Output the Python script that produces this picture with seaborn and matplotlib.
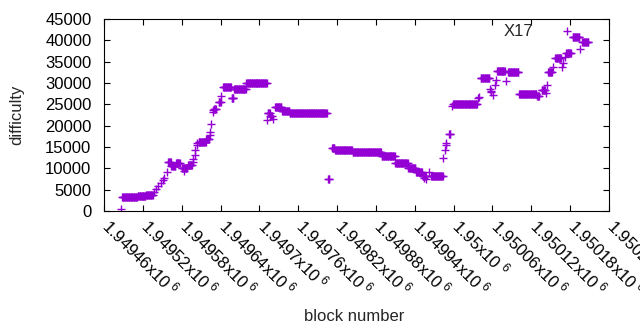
import numpy as np
import pandas as pd
import matplotlib
matplotlib.use("Agg")
import matplotlib.pyplot as plt
import matplotlib.transforms as mtransforms
import seaborn as sns

# ---------------------------------------------------------------
# Difficulty per block.
# Flat stretches are given as (first block, last block, difficulty),
# single off-level blocks as (block, difficulty).
# ---------------------------------------------------------------
run_start = [1949488, 1949512, 1949525, 1949559, 1949564, 1949571, 1949580,
             1949590, 1949606, 1949618, 1949630, 1949637, 1949644, 1949657,
             1949661, 1949680, 1949713, 1949717, 1949724, 1949735, 1949747,
             1949806, 1949812, 1949817, 1949844, 1949889, 1949910, 1949930,
             1949942, 1949952, 1949965, 1949993, 1949999, 1950042, 1950067,
             1950084, 1950101, 1950129, 1950136, 1950146, 1950157, 1950174,
             1950184, 1950199]
run_end = [1949511, 1949524, 1949535, 1949563, 1949570, 1949577, 1949588,
           1949596, 1949617, 1949622, 1949633, 1949640, 1949656, 1949660,
           1949679, 1949711, 1949716, 1949719, 1949734, 1949746, 1949804,
           1949808, 1949816, 1949843, 1949888, 1949909, 1949929, 1949941,
           1949951, 1949957, 1949983, 1949995, 1950036, 1950055, 1950079,
           1950100, 1950128, 1950132, 1950141, 1950152, 1950166, 1950180,
           1950194, 1950208]
run_diff = [3200, 3500, 3800, 11600, 10600, 11200, 10000,
            10800, 16200, 16800, 24000, 25500, 29000, 26600,
            28500, 30000, 23000, 22300, 24400, 23500, 22900,
            7600, 14800, 14200, 13800, 12850, 11200, 10000,
            9100, 8100, 8200, 18000, 25000, 31100, 32800,
            32500, 27400, 26900, 28400, 32500, 35800, 37000,
            40700, 39500]

pt_block = [1949486, 1949537, 1949541, 1949544, 1949548, 1949551, 1949553,
            1949557, 1949584, 1949597, 1949598, 1949600, 1949601, 1949603,
            1949604, 1949623, 1949624, 1949626, 1949628, 1949629, 1949641,
            1949712, 1949721, 1949955, 1949958, 1949962, 1949984, 1949987,
            1949988, 1949989, 1949998, 1950038, 1950039, 1950056, 1950057,
            1950058, 1950061, 1950064, 1950066, 1950081, 1950143, 1950144,
            1950154, 1950168, 1950169, 1950172, 1950181, 1950195]
pt_diff = [500, 4400, 5100, 5900, 6600, 7300, 7700,
           9100, 9400, 11500, 12300, 13100, 14300, 15500,
           16000, 17800, 18600, 20300, 23200, 23700, 26900,
           21300, 21500, 7700, 7500, 9100, 12400, 14300,
           15400, 16000, 24500, 26400, 26800, 28600, 28200,
           27800, 27200, 29500, 30700, 30500, 27600, 29500,
           33800, 33800, 34700, 36200, 37100, 37900]

# x axis ticks (gnuplot style, every 60 blocks)
x_ticks = list(range(1949460, 1950241, 60))
y_ticks = list(range(0, 45001, 5000))

# build one table, one row per block
blocks, diffs = [], []
for s, e, d in zip(run_start, run_end, run_diff):
    for b in range(s, e + 1):
        blocks.append(b)
        diffs.append(d)
blocks += pt_block
diffs += pt_diff
df = pd.DataFrame({"block": blocks, "difficulty": diffs}).sort_values("block")

# ---------------------------------------------------------------
sns.set_theme(style="ticks")
plt.rcParams["font.family"] = ["Liberation Sans", "DejaVu Sans"]
plt.rcParams["font.size"] = 12

fig = plt.figure(figsize=(6.4, 3.3), dpi=100)
ax = fig.add_axes([104 / 640, 1 - 211 / 330, 505 / 640, 192 / 330])

sns.scatterplot(data=df, x="block", y="difficulty", ax=ax,
                marker="+", s=30, color="#9400d3", linewidth=1.0,
                label="X17")

ax.set_xlim(1949460, 1950240)
ax.set_ylim(0, 45000)
ax.set_xticks(x_ticks)
xlabels = ["$\\mathregular{" + f"{v / 1e6:g}" + "x10^{\\ 6}}$" for v in x_ticks]
ax.set_xticklabels(xlabels, rotation=-45, ha="left", va="top",
                   rotation_mode="anchor")
ax.set_yticks(y_ticks)
ax.tick_params(direction="in", top=True, right=True, length=4, width=0.8,
               labelsize=12, colors="black")
ax.tick_params(axis="x", pad=8)
ax.tick_params(axis="y", pad=9)
# nudge the slanted labels so they start right at their tick
shift = mtransforms.ScaledTranslation(9 / 100, 7 / 100, fig.dpi_scale_trans)
for lbl in ax.get_xticklabels():
    lbl.set_transform(lbl.get_transform() + shift)

for sp in ax.spines.values():
    sp.set_visible(True)
    sp.set_linewidth(0.8)
    sp.set_color("black")

ax.set_xlabel("block number", fontsize=12)
ax.set_ylabel("difficulty", fontsize=12)
ax.xaxis.set_label_coords((354 - 104) / 505, (211 - 309) / 192)
ax.yaxis.set_label_coords((24 - 104) / 505, 0.5)

ax.legend(loc="upper right", bbox_to_anchor=((584 - 104) / 505, 0.975),
          frameon=False, markerfirst=False, borderpad=0, borderaxespad=0,
          handlelength=2.0, handletextpad=1.04, fontsize=12)

fig.savefig("out.png", dpi=100)
